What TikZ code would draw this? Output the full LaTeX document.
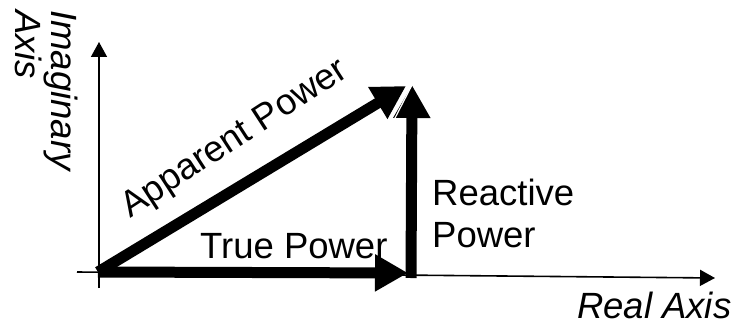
\documentclass[tikz,border=0pt]{standalone}
\usepackage{fontspec}
\setmainfont{Liberation Sans}
\usetikzlibrary{arrows.meta}
\begin{document}
\begin{tikzpicture}[x=1pt,y=-1pt,
  axis/.style={line width=1.6pt,-{Triangle[length=15pt,width=16pt]}},
  vec/.style={line width=11pt,-{Triangle[length=33pt,width=35pt]}},
  lbl/.style={inner sep=0pt,font=\fontsize{36.5}{42}\selectfont},
  axlbl/.style={inner sep=0pt,font=\fontsize{36.5}{42}\selectfont\itshape}]
\useasboundingbox (0,0) rectangle (736,329);
% axes
\coordinate (xs) at (77,272);
\coordinate (xe) at (715,278);
\coordinate (ys) at (99,288);
\coordinate (ye) at (99,42);
\draw[axis] (xs) -- (xe);
\draw[axis] (ys) -- (ye);
% power triangle
\coordinate (O) at (98,272);
\coordinate (P) at (408,273);
\coordinate (R) at (411,278);
\coordinate (Q) at (412,85);
\coordinate (A) at (406,86);
\coordinate (gap) at (394,120);
\draw[vec] (O) -- (P);
\draw[vec] (R) -- (Q);
\draw[vec] (O) -- (A);
% thin light slit between the two upper arrowheads
\draw[white,line width=1.2pt] (Q) -- (gap);
% labels
\node[lbl,anchor=base west] (tp) at (200,258) {True Power};
\node[lbl,anchor=base west] (rp1) at (432,205) {Reactive};
\node[lbl,anchor=base west] (rp2) at (432,247) {Power};
\node[lbl,anchor=base,rotate=33] (ap) at (240,147) {Apparent Power};
\node[axlbl,anchor=base west] (ra) at (577,318) {Real Axis};
\node[axlbl,anchor=base west,rotate=-90] (ia1) at (51,10) {Imaginary};
\node[axlbl,anchor=base west,rotate=-90] (ia2) at (16,10) {Axis};
\end{tikzpicture}
\end{document}
